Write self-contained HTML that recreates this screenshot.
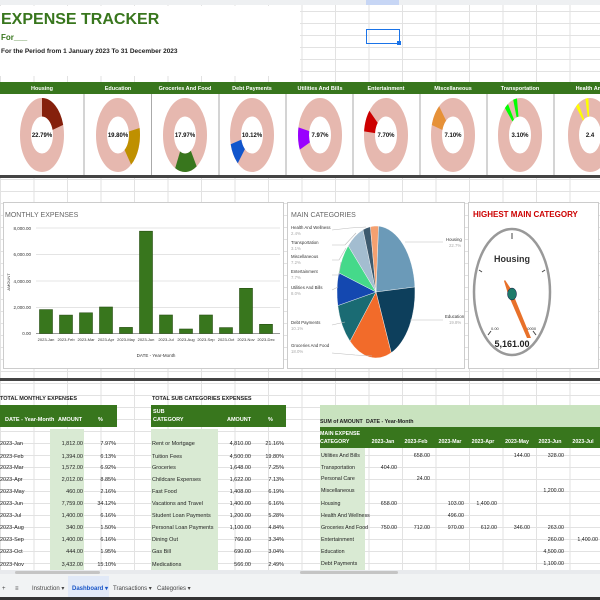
<!DOCTYPE html>
<html><head><meta charset="utf-8"><style>
html,body{margin:0;padding:0;width:600px;height:600px;overflow:hidden;background:#fff}
svg{display:block}
text{font-family:"Liberation Sans Narrow","Liberation Sans",sans-serif}
</style></head><body>
<svg width="600" height="600" viewBox="0 0 600 600" xmlns="http://www.w3.org/2000/svg">
<defs>
<pattern id="grid" x="0" y="0" width="33.5" height="12" patternUnits="userSpaceOnUse">
<rect width="33.5" height="12" fill="#fff"/>
<line x1="0" y1="11.5" x2="33.5" y2="11.5" stroke="#e2e2e2" stroke-width="1"/>
<line x1="0.5" y1="0" x2="0.5" y2="12" stroke="#e2e2e2" stroke-width="1"/>
</pattern>
</defs>
<rect width="600" height="600" fill="url(#grid)"/>
<rect x="0" y="0" width="600" height="5" fill="#eef0f2"/>
<rect x="366" y="0" width="33" height="5" fill="#c7d6f5"/>

<rect x="0" y="6" width="300" height="70" fill="#fff"/>
<text x="1" y="24" font-size="16" font-weight="bold" fill="#38761d">EXPENSE TRACKER</text>
<text x="1" y="40" font-size="8" font-weight="bold" fill="#38761d">For___</text>
<text x="1" y="53" font-size="6.5" font-weight="bold" fill="#222">For the Period from 1 January 2023 To 31 December 2023</text>
<rect x="366.5" y="29.5" width="33" height="14" fill="none" stroke="#1a73e8" stroke-width="1"/>
<rect x="397" y="41" width="4" height="4" fill="#1a73e8"/>

<rect x="0" y="82" width="600" height="12" fill="#38761d"/>
<rect x="0" y="94" width="600" height="82" fill="#fff"/>
<g stroke="#aaa" stroke-width="1">
<line x1="84" y1="94" x2="84" y2="176"/><line x1="151.5" y1="94" x2="151.5" y2="176"/>
<line x1="219" y1="94" x2="219" y2="176"/><line x1="286" y1="94" x2="286" y2="176"/>
<line x1="353" y1="94" x2="353" y2="176"/><line x1="420" y1="94" x2="420" y2="176"/>
<line x1="487" y1="94" x2="487" y2="176"/><line x1="554" y1="94" x2="554" y2="176"/>
</g>
<rect x="0" y="175" width="600" height="3" fill="#444"/>
<g font-size="5.5" font-weight="bold" fill="#fff" text-anchor="middle">
<text x="42" y="90">Housing</text><text x="118" y="90">Education</text><text x="185" y="90">Groceries And Food</text>
<text x="252" y="90">Debt Payments</text><text x="320" y="90">Utilities And Bills</text><text x="386" y="90">Entertainment</text>
<text x="453" y="90">Miscellaneous</text><text x="520" y="90">Transportation</text><text x="590" y="90">Health And</text>
</g>
<g fill="none">
<g transform="translate(42,135) scale(22,37)"><circle r="0.75" stroke="#e6b8af" stroke-width="0.5"/><circle r="0.75" stroke="#85200c" stroke-width="0.5" pathLength="100" stroke-dasharray="22.8 100" transform="rotate(-90)"/></g>
<g transform="translate(118,135) scale(22,37)"><circle r="0.75" stroke="#e6b8af" stroke-width="0.5"/><circle r="0.75" stroke="#bf9000" stroke-width="0.5" pathLength="100" stroke-dasharray="19.8 100" transform="rotate(-11)"/></g>
<g transform="translate(185,135) scale(22,37)"><circle r="0.75" stroke="#e6b8af" stroke-width="0.5"/><circle r="0.75" stroke="#38761d" stroke-width="0.5" pathLength="100" stroke-dasharray="18 100" transform="rotate(58)"/></g>
<g transform="translate(252,135) scale(22,37)"><circle r="0.75" stroke="#e6b8af" stroke-width="0.5"/><circle r="0.75" stroke="#1155cc" stroke-width="0.5" pathLength="100" stroke-dasharray="10 100" transform="rotate(133)"/></g>
<g transform="translate(320,135) scale(22,37)"><circle r="0.75" stroke="#e6b8af" stroke-width="0.5"/><circle r="0.75" stroke="#9900ff" stroke-width="0.5" pathLength="100" stroke-dasharray="8 100" transform="rotate(166)"/></g>
<g transform="translate(386,135) scale(22,37)"><circle r="0.75" stroke="#e6b8af" stroke-width="0.5"/><circle r="0.75" stroke="#cc0000" stroke-width="0.5" pathLength="100" stroke-dasharray="7.7 100" transform="rotate(196)"/></g>
<g transform="translate(453,135) scale(22,37)"><circle r="0.75" stroke="#e6b8af" stroke-width="0.5"/><circle r="0.75" stroke="#e69138" stroke-width="0.5" pathLength="100" stroke-dasharray="7.1 100" transform="rotate(208)"/></g>
<g transform="translate(520,135) scale(22,37)"><circle r="0.75" stroke="#e6b8af" stroke-width="0.5"/><circle r="0.75" stroke="#00ff00" stroke-width="0.5" pathLength="100" stroke-dasharray="3.1 100" transform="rotate(252)"/></g>
<g transform="translate(590,135) scale(22,37)"><circle r="0.75" stroke="#e6b8af" stroke-width="0.5"/><circle r="0.75" stroke="#ffff00" stroke-width="0.5" pathLength="100" stroke-dasharray="2.4 100" transform="rotate(258)"/></g>
</g>
<g font-size="6" font-weight="bold" fill="#111" text-anchor="middle">
<text x="42" y="137">22.79%</text><text x="118" y="137">19.80%</text><text x="185" y="137">17.97%</text>
<text x="252" y="137">10.12%</text><text x="320" y="137">7.97%</text><text x="386" y="137">7.70%</text>
<text x="453" y="137">7.10%</text><text x="520" y="137">3.10%</text><text x="590" y="137">2.4</text>
</g>

<rect x="3.5" y="202.5" width="280" height="166" fill="#fff" stroke="#ccc"/>
<rect x="287.5" y="202.5" width="177" height="166" fill="#fff" stroke="#ccc"/>
<rect x="468.5" y="202.5" width="130" height="166" fill="#fff" stroke="#ccc"/>

<text x="5" y="217" font-size="7" fill="#666">MONTHLY EXPENSES</text>
<g stroke="#e4e4e4" stroke-width="1">
<line x1="36" y1="228" x2="280" y2="228"/><line x1="36" y1="254.5" x2="280" y2="254.5"/>
<line x1="36" y1="281" x2="280" y2="281"/><line x1="36" y1="307.5" x2="280" y2="307.5"/>
</g>
<line x1="36" y1="333.5" x2="280" y2="333.5" stroke="#999"/>
<g font-size="4.5" fill="#333" text-anchor="end">
<text x="31" y="230">8,000.00</text><text x="31" y="256">6,000.00</text><text x="31" y="283">4,000.00</text><text x="31" y="309">2,000.00</text><text x="31" y="335">0.00</text>
</g>
<text transform="translate(10,282) rotate(-90)" font-size="4" fill="#333" text-anchor="middle">AMOUNT</text>
<g fill="#38761d" stroke="#274e13" stroke-width="0.6">
<rect x="39.5" y="309.6" width="13" height="23.9"/>
<rect x="59.5" y="315.1" width="13" height="18.4"/>
<rect x="79.5" y="312.8" width="13" height="20.7"/>
<rect x="99.5" y="307" width="13" height="26.5"/>
<rect x="119.5" y="327.4" width="13" height="6.1"/>
<rect x="139.5" y="231.2" width="13" height="102.3"/>
<rect x="159.5" y="315" width="13" height="18.5"/>
<rect x="179.5" y="329" width="13" height="4.5"/>
<rect x="199.5" y="315" width="13" height="18.5"/>
<rect x="219.5" y="327.6" width="13" height="5.9"/>
<rect x="239.5" y="288.3" width="13" height="45.2"/>
<rect x="259.5" y="324.3" width="13" height="9.2"/>
</g>
<g font-size="4" fill="#333" text-anchor="middle">
<text x="46" y="341">2023-Jan</text><text x="66" y="341">2023-Feb</text><text x="86" y="341">2023-Mar</text><text x="106" y="341">2023-Apr</text>
<text x="126" y="341">2023-May</text><text x="146" y="341">2023-Jun</text><text x="166" y="341">2023-Jul</text><text x="186" y="341">2023-Aug</text>
<text x="206" y="341">2023-Sep</text><text x="226" y="341">2023-Oct</text><text x="246" y="341">2023-Nov</text><text x="266" y="341">2023-Dec</text>
</g>
<text x="156" y="357" font-size="4.5" fill="#333" text-anchor="middle">DATE - Year-Month</text>

<!-- pie -->
<text x="291" y="217" font-size="7" fill="#666">MAIN CATEGORIES</text>
<g stroke="#fff" stroke-width="0.4">
<path d="M376,292 L378.5,226.1 A39,66 0 0 1 414.9,287 Z" fill="#6b9ab8"/>
<path d="M376,292 L414.9,287 A39,66 0 0 1 391.2,352.8 Z" fill="#0d3f5c"/>
<path d="M376,292 L391.2,352.8 A39,66 0 0 1 350,341.2 Z" fill="#f26b2a"/>
<path d="M376,292 L350,341.2 A39,66 0 0 1 337.8,305.6 Z" fill="#1a6b73"/>
<path d="M376,292 L337.8,305.6 A39,66 0 0 1 338.7,272.8 Z" fill="#1448b0"/>
<path d="M376,292 L338.7,272.8 A39,66 0 0 1 348.2,245.7 Z" fill="#45d98a"/>
<path d="M376,292 L348.2,245.7 A39,66 0 0 1 363,229.7 Z" fill="#a3bdd0"/>
<path d="M376,292 L363,229.7 A39,66 0 0 1 370.4,226.7 Z" fill="#3d5a6e"/>
<path d="M376,292 L370.4,226.7 A39,66 0 0 1 378.5,226.1 Z" fill="#f4a070"/>
</g>
<g stroke="#bbb" stroke-width="0.6" fill="none">
<polyline points="332,230 350,228 366,227"/><polyline points="332,245 345,245 356,233"/>
<polyline points="332,260 339,260 346,248"/><polyline points="332,275 339,275 341,262"/>
<polyline points="332,290 338,287"/><polyline points="332,325 345,322"/><polyline points="332,353 355,355 372,356"/>
<polyline points="405,242 443,242"/><polyline points="410,320 443,320"/>
</g>
<g font-size="4.3" fill="#333">
<text x="291" y="229">Health And Wellness</text><text x="291" y="244">Transportation</text><text x="291" y="258">Miscellaneous</text>
<text x="291" y="273">Entertainment</text><text x="291" y="289">Utilities And Bills</text><text x="291" y="324">Debt Payments</text>
<text x="291" y="347">Groceries And Food</text>
<text x="446" y="241">Housing</text><text x="445" y="318">Education</text>
</g>
<g font-size="4.3" fill="#aaa">
<text x="291" y="235">2.4%</text><text x="291" y="250">3.1%</text><text x="291" y="264">7.2%</text>
<text x="291" y="279">7.7%</text><text x="291" y="295">8.0%</text><text x="291" y="330">10.1%</text>
<text x="291" y="353">18.0%</text><text x="449" y="247">22.7%</text><text x="449" y="324">19.8%</text>
</g>

<!-- gauge -->
<text x="473" y="217" font-size="8" font-weight="bold" fill="#cc0000">HIGHEST MAIN CATEGORY</text>
<ellipse cx="512" cy="292" rx="38" ry="63" fill="#fff" stroke="#999" stroke-width="2.5"/>
<g stroke="#444" stroke-width="1">
<line x1="512" y1="233" x2="512" y2="239"/><line x1="479" y1="270" x2="482" y2="272"/><line x1="545" y1="270" x2="542" y2="272"/>
<line x1="488" y1="335" x2="491" y2="331"/><line x1="536" y1="335" x2="533" y2="331"/>
</g>
<text x="512" y="262" font-size="9" font-weight="bold" fill="#333" text-anchor="middle">Housing</text>
<text x="491" y="330" font-size="4" fill="#333">0.00</text><text x="525" y="330" font-size="4" fill="#333">10000</text>
<polygon points="505,280 511,289 531,338 527,338 508,294 504,281" fill="#e8712a"/>
<ellipse cx="512" cy="294" rx="4.5" ry="6" fill="#1e7a6a" stroke="#114" stroke-width="0.5"/>
<text x="512" y="347" font-size="9" font-weight="bold" fill="#222" text-anchor="middle">5,161.00</text>

<rect x="0" y="378" width="600" height="3" fill="#444"/>

<rect x="0" y="382" width="318" height="198" fill="url(#grid)"/>
<text x="0" y="400" font-size="5.5" font-weight="bold" fill="#222">TOTAL MONTHLY EXPENSES</text>
<rect x="0" y="405" width="117" height="22" fill="#38761d"/>
<g font-size="5.5" font-weight="bold" fill="#fff"><text x="5" y="421">DATE - Year-Month</text><text x="58" y="421">AMOUNT</text><text x="98" y="421">%</text></g>
<rect x="50" y="429" width="34" height="151" fill="#d9ead3"/>
<g font-size="5.5" fill="#222">
<text x="0" y="445">2023-Jan</text><text x="0" y="458">2023-Feb</text><text x="0" y="469">2023-Mar</text><text x="0" y="481">2023-Apr</text>
<text x="0" y="493">2023-May</text><text x="0" y="505">2023-Jun</text><text x="0" y="517">2023-Jul</text><text x="0" y="529">2023-Aug</text>
<text x="0" y="541">2023-Sep</text><text x="0" y="553">2023-Oct</text><text x="0" y="566">2023-Nov</text>
</g>
<g font-size="5.5" fill="#222" text-anchor="end">
<text x="83" y="445">1,812.00</text><text x="83" y="458">1,394.00</text><text x="83" y="469">1,572.00</text><text x="83" y="481">2,012.00</text>
<text x="83" y="493">460.00</text><text x="83" y="505">7,759.00</text><text x="83" y="517">1,400.00</text><text x="83" y="529">340.00</text>
<text x="83" y="541">1,400.00</text><text x="83" y="553">444.00</text><text x="83" y="566">3,432.00</text>
<text x="116" y="445">7.97%</text><text x="116" y="458">6.13%</text><text x="116" y="469">6.92%</text><text x="116" y="481">8.85%</text>
<text x="116" y="493">2.16%</text><text x="116" y="505">34.12%</text><text x="116" y="517">6.16%</text><text x="116" y="529">1.50%</text>
<text x="116" y="541">6.16%</text><text x="116" y="553">1.95%</text><text x="116" y="566">15.10%</text>
</g>

<text x="152" y="400" font-size="5.5" font-weight="bold" fill="#222">TOTAL SUB CATEGORIES EXPENSES</text>
<rect x="151" y="405" width="135" height="22" fill="#38761d"/>
<g font-size="5.5" font-weight="bold" fill="#fff"><text x="153" y="413">SUB</text><text x="153" y="421">CATEGORY</text><text x="227" y="421">AMOUNT</text><text x="268" y="421">%</text></g>
<rect x="151" y="429" width="67" height="151" fill="#d9ead3"/>
<g font-size="5.5" fill="#222">
<text x="152" y="445">Rent or Mortgage</text><text x="152" y="458">Tuition Fees</text><text x="152" y="469">Groceries</text><text x="152" y="481">Childcare Expenses</text>
<text x="152" y="493">Fast Food</text><text x="152" y="505">Vacations and Travel</text><text x="152" y="517">Student Loan Payments</text><text x="152" y="529">Personal Loan Payments</text>
<text x="152" y="541">Dining Out</text><text x="152" y="553">Gas Bill</text><text x="152" y="566">Medications</text>
</g>
<g font-size="5.5" fill="#222" text-anchor="end">
<text x="251" y="445">4,810.00</text><text x="251" y="458">4,500.00</text><text x="251" y="469">1,648.00</text><text x="251" y="481">1,622.00</text>
<text x="251" y="493">1,408.00</text><text x="251" y="505">1,400.00</text><text x="251" y="517">1,200.00</text><text x="251" y="529">1,100.00</text>
<text x="251" y="541">760.00</text><text x="251" y="553">690.00</text><text x="251" y="566">566.00</text>
<text x="284" y="445">21.16%</text><text x="284" y="458">19.80%</text><text x="284" y="469">7.25%</text><text x="284" y="481">7.13%</text>
<text x="284" y="493">6.19%</text><text x="284" y="505">6.16%</text><text x="284" y="517">5.28%</text><text x="284" y="529">4.84%</text>
<text x="284" y="541">3.34%</text><text x="284" y="553">3.04%</text><text x="284" y="566">2.49%</text>
</g>

<rect x="320" y="405" width="280" height="22" fill="#c9e3bf"/>
<rect x="320" y="427" width="280" height="21" fill="#38761d"/>
<rect x="320" y="448" width="45" height="122" fill="#d9ead3"/>
<g font-size="5.3" font-weight="bold" fill="#222"><text x="320" y="423">SUM of AMOUNT</text><text x="366" y="423">DATE - Year-Month</text></g>
<g font-size="5.3" font-weight="bold" fill="#fff">
<text x="320" y="435">MAIN EXPENSE</text><text x="320" y="443">CATEGORY</text>
</g>
<g font-size="5.3" font-weight="bold" fill="#fff" text-anchor="middle">
<text x="383" y="443">2023-Jan</text><text x="416" y="443">2023-Feb</text><text x="450" y="443">2023-Mar</text><text x="483" y="443">2023-Apr</text>
<text x="517" y="443">2023-May</text><text x="550" y="443">2023-Jun</text><text x="583" y="443">2023-Jul</text>
</g>
<g font-size="5.3" fill="#222">
<text x="321" y="457">Utilities And Bills</text><text x="321" y="469">Transportation</text><text x="321" y="480">Personal Care</text>
<text x="321" y="492">Miscellaneous</text><text x="321" y="505">Housing</text><text x="321" y="517">Health And Wellness</text>
<text x="321" y="529">Groceries And Food</text><text x="321" y="541">Entertainment</text><text x="321" y="553">Education</text><text x="321" y="565">Debt Payments</text>
</g>
<g font-size="5.3" fill="#222" text-anchor="end">
<text x="430" y="457">658.00</text><text x="530" y="457">144.00</text><text x="564" y="457">328.00</text>
<text x="397" y="469">404.00</text>
<text x="430" y="480">24.00</text>
<text x="564" y="492">1,200.00</text>
<text x="397" y="505">658.00</text><text x="464" y="505">103.00</text><text x="497" y="505">1,400.00</text>
<text x="464" y="517">496.00</text>
<text x="397" y="529">750.00</text><text x="430" y="529">712.00</text><text x="464" y="529">970.00</text><text x="497" y="529">612.00</text><text x="530" y="529">346.00</text><text x="564" y="529">263.00</text>
<text x="564" y="541">260.00</text><text x="598" y="541">1,400.00</text>
<text x="564" y="553">4,500.00</text>
<text x="564" y="565">1,100.00</text>
</g>
<rect x="0" y="570" width="600" height="4" fill="#e8eaed"/>
<rect x="15" y="571" width="85" height="3" rx="1.5" fill="#c4c4c4"/>
<rect x="300" y="571" width="98" height="3" rx="1.5" fill="#c4c4c4"/>

<rect x="0" y="574" width="600" height="23" fill="#f1f3f4"/>
<rect x="68" y="576" width="41" height="21" fill="#e1e9f7"/>
<g font-size="6" fill="#444">
<text x="2" y="590">+</text><text x="15" y="590">≡</text>
<text x="32" y="590">Instruction ▾</text><text x="113" y="590">Transactions ▾</text><text x="157" y="590">Categories ▾</text>
</g>
<text x="72" y="590" font-size="6" fill="#1a56c8" font-weight="bold">Dashboard ▾</text>
<rect x="0" y="597" width="600" height="3" fill="#333"/>
</svg>
</body></html>
